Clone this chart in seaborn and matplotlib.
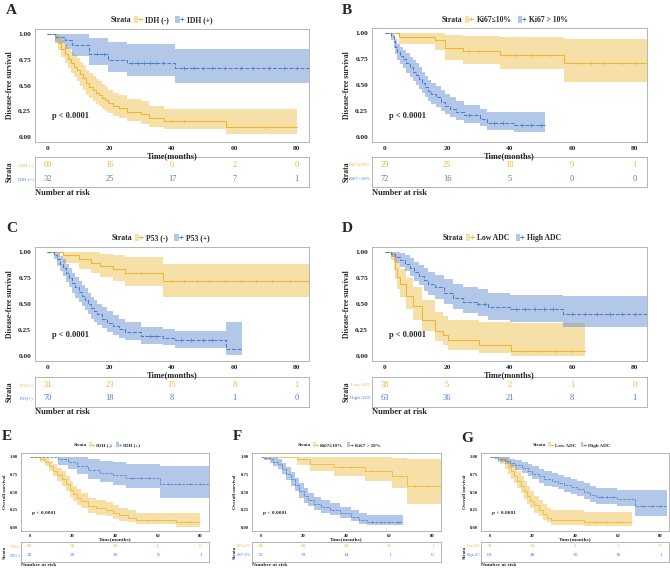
import matplotlib
matplotlib.use("Agg")
import numpy as np
import matplotlib.pyplot as plt
import seaborn as sns
from matplotlib.patches import Patch
from matplotlib.lines import Line2D
from matplotlib.legend_handler import HandlerTuple

# ---------------- data ----------------
risk_times = [0, 20, 40, 60, 80]

# A: IDH, disease-free survival
a_t1 = [0, 2.5, 3.5, 4.5, 5.5, 6.5, 7.5, 8.5, 9.5, 10.5, 11.5, 12.5, 13.5, 14.5, 15.5, 16.5, 17.5, 18.5, 19.5, 21, 23, 25.5, 30, 32.5, 37.5, 57.5, 80]
a_s1 = [1.00, 0.97, 0.91, 0.86, 0.81, 0.76, 0.72, 0.68, 0.65, 0.61, 0.57, 0.52, 0.49, 0.46, 0.43, 0.41, 0.38, 0.36, 0.33, 0.30, 0.28, 0.24, 0.22, 0.18, 0.15, 0.10, 0.10]
a_lo1 = [1.00, 0.93, 0.85, 0.78, 0.72, 0.67, 0.62, 0.58, 0.54, 0.50, 0.46, 0.41, 0.38, 0.35, 0.32, 0.30, 0.27, 0.25, 0.23, 0.20, 0.18, 0.15, 0.13, 0.10, 0.08, 0.03, 0.03]
a_hi1 = [1.00, 1.00, 0.98, 0.94, 0.90, 0.86, 0.83, 0.80, 0.77, 0.73, 0.70, 0.65, 0.62, 0.59, 0.56, 0.54, 0.51, 0.49, 0.46, 0.43, 0.41, 0.37, 0.35, 0.30, 0.27, 0.27, 0.27]
a_c1 = [40, 44, 70]
a_t2 = [0, 2.5, 5.5, 8, 13.5, 19.5, 25.5, 41, 84]
a_s2 = [1.00, 0.97, 0.94, 0.89, 0.81, 0.75, 0.72, 0.67, 0.67]
a_lo2 = [1.00, 0.91, 0.86, 0.79, 0.70, 0.63, 0.59, 0.52, 0.52]
a_hi2 = [1.00, 1.00, 1.00, 1.00, 0.96, 0.92, 0.90, 0.86, 0.86]
a_c2 = [16, 18, 27, 29, 31, 33, 35, 37, 44, 47, 50, 53, 57, 62, 66, 71, 76, 80]
a_names = ["IDH (-)", "IDH (+)"]
a_risk1 = [69, 16, 6, 2, 0]
a_risk2 = [32, 25, 17, 7, 1]

# B: Ki67, disease-free survival
b_t1 = [0, 4.5, 16, 19.4, 25, 37, 57.3, 84]
b_s1 = [1.00, 0.965, 0.93, 0.86, 0.83, 0.79, 0.71, 0.71]
b_lo1 = [1.00, 0.90, 0.84, 0.74, 0.70, 0.65, 0.53, 0.53]
b_hi1 = [1.00, 1.00, 1.00, 0.98, 0.97, 0.96, 0.94, 0.94]
b_c1 = [27, 30, 39, 42, 47, 50, 53, 62, 66, 70, 76, 80]
b_t2 = [0, 2, 3, 3.5, 4, 5, 6, 7, 8, 9, 10, 11, 12, 13, 14, 15, 16.5, 18, 19.5, 21, 23, 25.3, 30.6, 32.7, 41.3, 51.2]
b_s2 = [1.00, 0.97, 0.92, 0.87, 0.82, 0.78, 0.75, 0.71, 0.67, 0.63, 0.60, 0.56, 0.52, 0.48, 0.44, 0.41, 0.38, 0.34, 0.30, 0.27, 0.24, 0.21, 0.17, 0.13, 0.11, 0.11]
b_lo2 = [1.00, 0.93, 0.86, 0.80, 0.74, 0.70, 0.66, 0.62, 0.58, 0.54, 0.50, 0.46, 0.42, 0.38, 0.35, 0.32, 0.29, 0.25, 0.22, 0.19, 0.16, 0.13, 0.10, 0.07, 0.05, 0.05]
b_hi2 = [1.00, 1.00, 0.98, 0.94, 0.90, 0.87, 0.84, 0.81, 0.77, 0.74, 0.71, 0.67, 0.63, 0.59, 0.55, 0.52, 0.49, 0.45, 0.41, 0.38, 0.35, 0.31, 0.27, 0.24, 0.24, 0.24]
b_c2 = [27, 35, 38, 44, 47, 50]
b_names = ["Ki67\u226410%", "Ki67 > 10%"]
b_rows = ["Ki67\u226410%", "Ki67>10%"]
b_risk1 = [29, 25, 18, 9, 1]
b_risk2 = [72, 16, 5, 0, 0]

# C: P53, disease-free survival
c_t1 = [0, 5, 10, 14, 17, 21, 25, 37, 84]
c_s1 = [1.00, 0.97, 0.93, 0.90, 0.87, 0.84, 0.80, 0.72, 0.72]
c_lo1 = [1.00, 0.90, 0.84, 0.80, 0.76, 0.72, 0.67, 0.57, 0.57]
c_hi1 = [1.00, 1.00, 1.00, 1.00, 0.98, 0.97, 0.95, 0.89, 0.89]
c_c1 = [30, 40, 44, 48, 52, 57, 62, 67, 72, 78]
c_t2 = [0, 2, 3, 4, 5, 6, 7, 8, 9, 10, 11, 12, 13, 14, 15, 16, 17.5, 19, 21, 23, 25, 30, 37, 41, 57.5, 62.5]
c_s2 = [1.00, 0.97, 0.93, 0.89, 0.85, 0.80, 0.75, 0.70, 0.66, 0.62, 0.58, 0.54, 0.50, 0.46, 0.43, 0.40, 0.36, 0.32, 0.29, 0.26, 0.23, 0.19, 0.17, 0.15, 0.07, 0.07]
c_lo2 = [1.00, 0.93, 0.87, 0.82, 0.77, 0.71, 0.66, 0.61, 0.56, 0.52, 0.48, 0.44, 0.40, 0.36, 0.33, 0.30, 0.27, 0.23, 0.20, 0.17, 0.15, 0.11, 0.10, 0.08, 0.01, 0.01]
c_hi2 = [1.00, 1.00, 0.99, 0.96, 0.93, 0.89, 0.85, 0.80, 0.76, 0.72, 0.68, 0.65, 0.61, 0.57, 0.54, 0.50, 0.47, 0.43, 0.39, 0.36, 0.33, 0.28, 0.26, 0.24, 0.33, 0.33]
c_c2 = [33, 35, 43, 46, 50, 53]
c_names = ["P53 (-)", "P53 (+)"]
c_rows = ["P53 (-)", "P53(+)"]
c_risk1 = [31, 23, 15, 8, 1]
c_risk2 = [70, 18, 8, 1, 0]

# D: ADC, disease-free survival
d_t1 = [0, 2, 3, 3.5, 4, 5, 7, 9, 12, 16, 18.6, 20.2, 30.3, 40.4, 64]
d_s1 = [1.00, 0.97, 0.92, 0.84, 0.76, 0.69, 0.58, 0.48, 0.35, 0.24, 0.20, 0.15, 0.10, 0.05, 0.05]
d_lo1 = [1.00, 0.92, 0.84, 0.74, 0.64, 0.57, 0.45, 0.35, 0.24, 0.14, 0.10, 0.06, 0.03, 0.00, 0.00]
d_hi1 = [1.00, 1.00, 1.00, 0.96, 0.90, 0.84, 0.75, 0.66, 0.54, 0.42, 0.38, 0.35, 0.33, 0.32, 0.32]
d_c1 = [45, 50, 55, 60]
d_t2 = [0, 2, 3.5, 5, 6.5, 8, 9.5, 11, 12.5, 14, 16, 19, 22, 25, 29.8, 33, 40, 57, 84]
d_s2 = [1.00, 0.98, 0.95, 0.92, 0.89, 0.85, 0.81, 0.77, 0.73, 0.69, 0.66, 0.61, 0.56, 0.52, 0.50, 0.47, 0.45, 0.40, 0.40]
d_lo2 = [1.00, 0.95, 0.90, 0.86, 0.82, 0.77, 0.72, 0.68, 0.63, 0.59, 0.55, 0.50, 0.45, 0.41, 0.38, 0.35, 0.33, 0.28, 0.28]
d_hi2 = [1.00, 1.00, 1.00, 0.99, 0.97, 0.94, 0.91, 0.88, 0.85, 0.81, 0.78, 0.74, 0.69, 0.66, 0.64, 0.61, 0.59, 0.58, 0.58]
d_c2 = [30, 32, 42, 45, 48, 51, 54, 60, 64, 68, 72, 76, 80]
d_names = ["Low ADC", "High ADC"]
d_risk1 = [38, 5, 2, 1, 0]
d_risk2 = [63, 36, 21, 8, 1]

# E: IDH, overall survival
e_t1 = [0, 5, 7, 9, 11, 13, 15, 17, 19, 20.5, 22, 24, 27.5, 31, 36, 39, 42, 46, 50, 68.7, 80]
e_s1 = [1.00, 0.97, 0.92, 0.86, 0.80, 0.74, 0.68, 0.61, 0.53, 0.47, 0.42, 0.37, 0.30, 0.27, 0.25, 0.21, 0.17, 0.14, 0.11, 0.07, 0.07]
e_lo1 = [1.00, 0.93, 0.86, 0.79, 0.72, 0.65, 0.58, 0.51, 0.43, 0.37, 0.32, 0.27, 0.21, 0.18, 0.16, 0.12, 0.09, 0.07, 0.05, 0.01, 0.01]
e_hi1 = [1.00, 1.00, 0.98, 0.94, 0.89, 0.84, 0.79, 0.73, 0.65, 0.59, 0.54, 0.49, 0.42, 0.39, 0.36, 0.32, 0.28, 0.24, 0.21, 0.20, 0.20]
e_c1 = [55, 60, 65, 75]
e_t2 = [0, 13.5, 18, 22, 27.5, 33, 39, 45, 61, 84]
e_s2 = [1.00, 0.96, 0.92, 0.87, 0.81, 0.77, 0.74, 0.70, 0.61, 0.61]
e_lo2 = [1.00, 0.88, 0.82, 0.76, 0.69, 0.64, 0.60, 0.55, 0.42, 0.42]
e_hi2 = [1.00, 1.00, 1.00, 1.00, 0.97, 0.94, 0.92, 0.90, 0.86, 0.86]
e_c2 = [48, 52, 56, 65, 70, 75, 80]
e_risk1 = [69, 32, 15, 4, 0]
e_risk2 = [32, 29, 19, 8, 1]

# F: Ki67, overall survival
f_t1 = [0, 17, 23, 34, 48.8, 61, 68, 84]
f_s1 = [1.00, 0.96, 0.90, 0.85, 0.80, 0.73, 0.58, 0.58]
f_lo1 = [1.00, 0.88, 0.79, 0.72, 0.65, 0.55, 0.33, 0.33]
f_hi1 = [1.00, 1.00, 1.00, 1.00, 1.00, 0.98, 0.96, 0.96]
f_c1 = [38, 42, 52, 56, 72, 78]
f_t2 = [0, 1.5, 4.5, 6, 8, 10, 12, 14, 16, 18, 20, 22, 25, 28, 32.5, 37, 42, 46, 49.5, 66.5]
f_s2 = [1.00, 0.98, 0.96, 0.93, 0.89, 0.83, 0.76, 0.68, 0.60, 0.51, 0.44, 0.39, 0.33, 0.29, 0.25, 0.20, 0.15, 0.11, 0.08, 0.08]
f_lo2 = [1.00, 0.95, 0.91, 0.87, 0.82, 0.75, 0.67, 0.59, 0.51, 0.42, 0.35, 0.30, 0.25, 0.21, 0.17, 0.13, 0.09, 0.05, 0.03, 0.03]
f_hi2 = [1.00, 1.00, 1.00, 0.99, 0.96, 0.91, 0.85, 0.78, 0.70, 0.62, 0.55, 0.49, 0.43, 0.39, 0.34, 0.29, 0.24, 0.20, 0.18, 0.18]
f_c2 = [52, 56, 60, 64]
f_risk1 = [29, 28, 20, 11, 1]
f_risk2 = [72, 33, 14, 1, 0]

# G: ADC, overall survival
g_t1 = [0, 5, 7, 8.5, 10, 11.5, 13, 14.5, 16, 17.5, 19, 21, 23, 25, 27, 28.8, 44, 66.5]
g_s1 = [1.00, 0.96, 0.91, 0.85, 0.79, 0.73, 0.66, 0.59, 0.51, 0.44, 0.38, 0.31, 0.25, 0.19, 0.14, 0.10, 0.07, 0.07]
g_lo1 = [1.00, 0.90, 0.83, 0.76, 0.69, 0.62, 0.55, 0.48, 0.40, 0.33, 0.28, 0.21, 0.16, 0.11, 0.07, 0.04, 0.02, 0.02]
g_hi1 = [1.00, 1.00, 0.99, 0.95, 0.90, 0.85, 0.79, 0.72, 0.65, 0.58, 0.52, 0.45, 0.39, 0.33, 0.28, 0.24, 0.22, 0.22]
g_c1 = [50, 55, 60]
g_t2 = [0, 2, 4, 7, 9.5, 12, 15, 18, 20, 23, 25.7, 29, 32, 35, 38, 41, 44, 47, 49.6, 59.6, 68, 83]
g_s2 = [1.00, 0.99, 0.97, 0.94, 0.91, 0.88, 0.84, 0.80, 0.76, 0.72, 0.68, 0.66, 0.63, 0.60, 0.57, 0.54, 0.50, 0.46, 0.43, 0.40, 0.30, 0.30]
g_lo2 = [1.00, 0.96, 0.93, 0.89, 0.85, 0.81, 0.77, 0.72, 0.68, 0.63, 0.59, 0.57, 0.54, 0.50, 0.47, 0.44, 0.40, 0.36, 0.33, 0.30, 0.16, 0.16]
g_hi2 = [1.00, 1.00, 1.00, 0.99, 0.97, 0.95, 0.92, 0.89, 0.86, 0.82, 0.79, 0.77, 0.74, 0.71, 0.68, 0.65, 0.62, 0.58, 0.55, 0.53, 0.53, 0.53]
g_c2 = [52, 55, 58, 72, 76, 80]
g_risk1 = [38, 13, 4, 2, 0]
g_risk2 = [63, 48, 30, 10, 1]

# ---------------- style ----------------
sns.set_style("white")
plt.rcParams["font.family"] = ["Liberation Serif", "DejaVu Serif"]
plt.rcParams["font.weight"] = "bold"

YEL = "#EDB62F"
BLU = "#4A7CCB"
W, H = 670, 568
XLIM = (-4, 84)


def add_ax(fig, x0, y0, x1, y1):
    return fig.add_axes([x0 / W, 1 - y1 / H, (x1 - x0) / W, (y1 - y0) / H])


def grey_box(ax):
    for sp in ax.spines.values():
        sp.set_color("#AAAAAA")
        sp.set_linewidth(0.6)


def draw_panel(fig, p):
    k = p["k"]
    x0, y0, x1, y1 = p["plot"]
    ax = add_ax(fig, x0, y0, x1, y1)
    for (t, s, lo, hi, cens), col, ls in zip(p["curves"], [YEL, BLU], ["-", "--"]):
        ax.fill_between(t, lo, hi, step="post", color=col, alpha=0.42, lw=0)
        sns.lineplot(x=t, y=s, ax=ax, color=col, linestyle=ls, lw=0.6 * k + 0.15,
                     drawstyle="steps-post", sort=False, estimator=None, legend=False)
        # censor marks sit on the step curve
        idx = np.searchsorted(t, cens, side="right") - 1
        ax.plot(cens, np.asarray(s)[idx], ls="none", marker="+", color=col,
                ms=2.6 * k, mew=0.45)
    ax.set_xlim(*XLIM)
    ax.set_ylim(-0.05, 1.05)
    ax.set_xticks(risk_times)
    ax.set_yticks([0, 0.25, 0.5, 0.75, 1.0])
    ax.set_yticklabels(["0.00", "0.25", "0.50", "0.75", "1.00"])
    ax.set_xlabel("")
    ax.set_ylabel("")
    ax.tick_params(length=2 * k, width=0.5, color="#555555", pad=0.8, labelsize=5.3 * k)
    grey_box(ax)
    ax.text(1.3, 0.2, "p < 0.0001", ha="left", va="center", fontsize=6 * k)

    # axis titles
    fig.text(p["ylab_x"] / W, 1 - (y0 + y1) / 2 / H, p["ylab"], rotation=90,
             ha="center", va="center", fontsize=5.5 * k)
    fig.text((x0 + x1) / 2 / W, 1 - p["xlab_y"] / H, "Time(months)",
             ha="center", va="center", fontsize=6 * k)

    # panel letter
    lx, ly = p["letter_xy"]
    fig.text(lx / W, 1 - ly / H, p["letter"], ha="center", va="center",
             fontsize=11, weight="bold")

    # legend
    sx, sy = p["legend"]
    fig.text(sx / W, 1 - sy / H, "Strata", ha="right", va="center", fontsize=5.5 * k)
    handles = [
        (Patch(facecolor=YEL, alpha=0.42, edgecolor="none"),
         Line2D([], [], color=YEL, lw=0.7, ls="-", marker="+", ms=3 * k, mew=0.5)),
        (Patch(facecolor=BLU, alpha=0.42, edgecolor="none"),
         Line2D([], [], color=BLU, lw=0.7, ls="--", marker="+", ms=3 * k, mew=0.5)),
    ]
    fig.legend(handles, p["names"], loc="center left",
               bbox_to_anchor=((sx + 3 * k) / W, 1 - sy / H), ncol=2, frameon=False,
               fontsize=5.5 * k, handler_map={tuple: HandlerTuple(ndivide=None, pad=0)},
               handlelength=1.1, handleheight=1.1, handletextpad=0.4,
               columnspacing=0.8, borderpad=0, borderaxespad=0)

    # risk table
    ry0, ry1 = p["risk"]
    rax = add_ax(fig, x0, ry0, x1, ry1)
    rax.set_xlim(*XLIM)
    rax.set_ylim(0, 1)
    rax.set_xticks([])
    rax.set_yticks([])
    grey_box(rax)
    for vals, row_y, col, lab in zip(p["risk_vals"], p["rows_y"], [YEL, BLU], p["rows"]):
        for t, v in zip(risk_times, vals):
            rax.text(t, row_y, str(v), ha="center", va="center", color=col,
                     fontsize=6 * k, weight="normal")
        rax.text(-0.005, row_y, lab, transform=rax.transAxes, ha="right", va="center",
                 color=col, fontsize=3.5 * k, weight="normal")
    fig.text(p["ylab_x"] / W, 1 - (ry0 + ry1) / 2 / H, "Strata", rotation=90,
             ha="center", va="center", fontsize=5.5 * k)
    fig.text(x0 / W, 1 - p["nar_y"] / H, "Number at risk", ha="left", va="center",
             fontsize=6 * k)


dfs = "Disease-free survival"
os_ = "Overall survival"
kb = 0.65

panels = [
    dict(letter="A", letter_xy=(11, 10), plot=(35, 29, 309, 142), risk=(157, 187),
         rows_y=(0.72, 0.28), legend=(131, 20), ylab=dfs, ylab_x=10, xlab_y=156,
         nar_y=193, k=1, names=a_names, rows=a_names, risk_vals=[a_risk1, a_risk2],
         curves=[(a_t1, a_s1, a_lo1, a_hi1, a_c1), (a_t2, a_s2, a_lo2, a_hi2, a_c2)]),
    dict(letter="B", letter_xy=(347, 10), plot=(372, 28, 647, 142), risk=(157, 187),
         rows_y=(0.72, 0.28), legend=(462, 20), ylab=dfs, ylab_x=347, xlab_y=156,
         nar_y=193, k=1, names=b_names, rows=b_rows, risk_vals=[b_risk1, b_risk2],
         curves=[(b_t1, b_s1, b_lo1, b_hi1, b_c1), (b_t2, b_s2, b_lo2, b_hi2, b_c2)]),
    dict(letter="C", letter_xy=(12, 228), plot=(35, 247, 309, 361), risk=(377, 407),
         rows_y=(0.73, 0.3), legend=(132, 238), ylab=dfs, ylab_x=10, xlab_y=375,
         nar_y=412, k=1, names=c_names, rows=c_rows, risk_vals=[c_risk1, c_risk2],
         curves=[(c_t1, c_s1, c_lo1, c_hi1, c_c1), (c_t2, c_s2, c_lo2, c_hi2, c_c2)]),
    dict(letter="D", letter_xy=(347, 228), plot=(372, 247, 647, 361), risk=(377, 407),
         rows_y=(0.73, 0.3), legend=(463, 238), ylab=dfs, ylab_x=347, xlab_y=375,
         nar_y=412, k=1, names=d_names, rows=d_names, risk_vals=[d_risk1, d_risk2],
         curves=[(d_t1, d_s1, d_lo1, d_hi1, d_c1), (d_t2, d_s2, d_lo2, d_hi2, d_c2)]),
    dict(letter="E", letter_xy=(7, 437), plot=(21, 453, 209, 531), risk=(542, 562),
         rows_y=(0.8, 0.36), legend=(87, 445), ylab=os_, ylab_x=5, xlab_y=539.5,
         nar_y=565, k=kb, names=a_names, rows=a_names, risk_vals=[e_risk1, e_risk2],
         curves=[(e_t1, e_s1, e_lo1, e_hi1, e_c1), (e_t2, e_s2, e_lo2, e_hi2, e_c2)]),
    dict(letter="F", letter_xy=(237, 437), plot=(252, 453, 441, 531), risk=(542, 562),
         rows_y=(0.8, 0.36), legend=(311, 445), ylab=os_, ylab_x=235, xlab_y=539.5,
         nar_y=565, k=kb, names=b_names, rows=b_rows, risk_vals=[f_risk1, f_risk2],
         curves=[(f_t1, f_s1, f_lo1, f_hi1, f_c1), (f_t2, f_s2, f_lo2, f_hi2, f_c2)]),
    dict(letter="G", letter_xy=(467, 438), plot=(481, 453, 669, 531), risk=(542, 562),
         rows_y=(0.8, 0.36), legend=(546, 445), ylab=os_, ylab_x=465, xlab_y=539.5,
         nar_y=565, k=kb, names=d_names, rows=d_names, risk_vals=[g_risk1, g_risk2],
         curves=[(g_t1, g_s1, g_lo1, g_hi1, g_c1), (g_t2, g_s2, g_lo2, g_hi2, g_c2)]),
]

fig = plt.figure(figsize=(6.7, 5.68), dpi=100)
for p in panels:
    draw_panel(fig, p)

fig.savefig("out.png", dpi=100)
plt.close(fig)
